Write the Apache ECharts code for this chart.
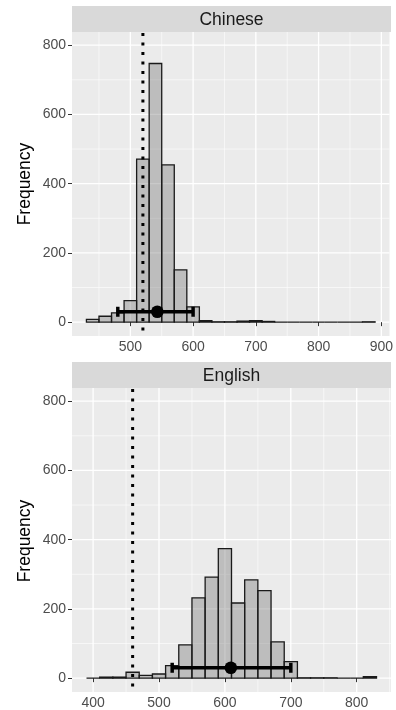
<!DOCTYPE html>
<html>
<head>
<meta charset="utf-8">
<script src="https://cdn.jsdelivr.net/npm/echarts@6/dist/echarts.min.js"></script>
<style>html,body{margin:0;padding:0;background:#fff;}#c{width:396px;height:710px;}</style>
</head>
<body>
<div id="c"></div>
<script>
// ---- data ----
const panelTitles = ['Chinese', 'English'];
const binWidth = 20;
const cnBinStarts = [430,450,470,490,510,530,550,570,590,610,630,650,670,690,710,730,750,770,790,810,830,850,870];
const cnCounts    = [8,17,27,62,471,747,454,151,44,4,1,1,3,4,2,0,0,0,0,0,0,0,1];
const enBinStarts = [390,410,430,450,470,490,510,530,550,570,590,610,630,650,670,690,710,730,750,770,790,810];
const enCounts    = [0,3,3,17,8,12,36,96,232,292,374,217,284,253,105,48,1,1,1,0,0,4];
const cnCutoff = 520;
const enCutoff = 460;
const cnMean = 543, cnLow = 480, cnHigh = 600, cnPointY = 30;
const enMean = 609, enLow = 520, enHigh = 700, enPointY = 30;
const cnXTicks = [500,600,700,800,900];
const cnXMinor = [450,550,650,750,850];
const enXTicks = [400,500,600,700,800];
const enXMinor = [450,550,650,750,850];
const yTicks = [0,200,400,600,800];
const yMinor = [100,300,500,700];
const yName = 'Frequency';

// ---- layout ----
const FONT = '"Liberation Sans", Arial, sans-serif';
const panels = [
  {top: 32, height: 304, xmin: 407, xmax: 913, stripTop: 6},
  {top: 388, height: 306, xmin: 368, xmax: 852, stripTop: 362}
];
const LEFT = 72, WIDTH = 319;

function gridLineSeries(idx, values, dir, width) {
  return {
    type: 'custom', xAxisIndex: idx, yAxisIndex: idx, z: 0, silent: true,
    data: values.map(v => [v, v]),
    renderItem: function (params, api) {
      const cs = params.coordSys;
      const v = api.value(0);
      if (dir === 'x') {
        const x = api.coord([v, 0])[0];
        return {type: 'line', shape: {x1: x, y1: cs.y, x2: x, y2: cs.y + cs.height},
                style: {stroke: '#ffffff', lineWidth: width}};
      } else {
        const y = api.coord([panels[idx].xmin, v])[1];
        return {type: 'line', shape: {x1: cs.x, y1: y, x2: cs.x + cs.width, y2: y},
                style: {stroke: '#ffffff', lineWidth: width}};
      }
    }
  };
}

function barSeries(idx, starts, counts) {
  return {
    type: 'custom', xAxisIndex: idx, yAxisIndex: idx, z: 2, silent: true,
    data: starts.map((s, i) => [s, s + binWidth, counts[i]]),
    renderItem: function (params, api) {
      const p0 = api.coord([api.value(0), api.value(2)]);
      const p1 = api.coord([api.value(1), 0]);
      return {type: 'rect', shape: {x: p0[0], y: p0[1], width: p1[0] - p0[0], height: p1[1] - p0[1]},
              style: {fill: 'rgba(127,127,127,0.42)', stroke: '#1a1a1a', lineWidth: 1.3}};
    }
  };
}

function vlineSeries(idx, xv) {
  return {
    type: 'custom', xAxisIndex: idx, yAxisIndex: idx, z: 3, silent: true,
    data: [[xv, 0]],
    renderItem: function (params, api) {
      const cs = params.coordSys;
      const x = api.coord([api.value(0), 0])[0];
      return {type: 'line', shape: {x1: x, y1: cs.y + 1, x2: x, y2: cs.y + cs.height},
              style: {stroke: '#000', lineWidth: 3, lineDash: [3, 6.5], lineCap: 'butt'}};
    }
  };
}

function errorbarSeries(idx, lo, hi, yv) {
  return {
    type: 'custom', xAxisIndex: idx, yAxisIndex: idx, z: 4, silent: true,
    data: [[lo, hi, yv]],
    renderItem: function (params, api) {
      const a = api.coord([api.value(0), api.value(2)]);
      const b = api.coord([api.value(1), api.value(2)]);
      const st = {stroke: '#000', lineWidth: 3.5};
      return {type: 'group', children: [
        {type: 'line', shape: {x1: a[0], y1: a[1], x2: b[0], y2: b[1]}, style: st},
        {type: 'line', shape: {x1: a[0], y1: a[1] - 5, x2: a[0], y2: a[1] + 5}, style: st},
        {type: 'line', shape: {x1: b[0], y1: b[1] - 5, x2: b[0], y2: b[1] + 5}, style: st}
      ]};
    }
  };
}

function pointSeries(idx, xv, yv) {
  return {
    type: 'custom', xAxisIndex: idx, yAxisIndex: idx, z: 5, silent: true,
    data: [[xv, yv]],
    renderItem: function (params, api) {
      const c = api.coord([api.value(0), api.value(1)]);
      return {type: 'circle', shape: {cx: c[0], cy: c[1], r: 6.3}, style: {fill: '#000'}};
    }
  };
}

const xTickSets = [cnXTicks, enXTicks];
const xMinorSets = [cnXMinor, enXMinor];

const grids = panels.map(p => ({left: LEFT, top: p.top, width: WIDTH, height: p.height,
  show: true, backgroundColor: '#EBEBEB', borderWidth: 0, containLabel: false}));

const xAxes = panels.map((p, i) => ({
  type: 'value', gridIndex: i, min: p.xmin, max: p.xmax,
  axisLine: {show: false},
  axisTick: {show: true, length: 4, customValues: xTickSets[i], lineStyle: {color: '#333', width: 1}},
  axisLabel: {customValues: xTickSets[i], color: '#4D4D4D', fontSize: 14, fontFamily: FONT, margin: 4},
  splitLine: {show: false}
}));

const yAxes = panels.map((p, i) => ({
  type: 'value', gridIndex: i, min: -40, max: 838,
  axisLine: {show: false},
  axisTick: {show: true, length: 4, customValues: yTicks, lineStyle: {color: '#333', width: 1}},
  axisLabel: {customValues: yTicks, color: '#4D4D4D', fontSize: 14, fontFamily: FONT, margin: 6},
  splitLine: {show: false}
}));

const series = [];
[0, 1].forEach(i => {
  series.push(gridLineSeries(i, xMinorSets[i], 'x', 0.6));
  series.push(gridLineSeries(i, yMinor, 'y', 0.6));
  series.push(gridLineSeries(i, xTickSets[i], 'x', 1.3));
  series.push(gridLineSeries(i, yTicks, 'y', 1.3));
});
series.push(barSeries(0, cnBinStarts, cnCounts));
series.push(barSeries(1, enBinStarts, enCounts));
series.push(vlineSeries(0, cnCutoff));
series.push(vlineSeries(1, enCutoff));
series.push(errorbarSeries(0, cnLow, cnHigh, cnPointY));
series.push(errorbarSeries(1, enLow, enHigh, enPointY));
series.push(pointSeries(0, cnMean, cnPointY));
series.push(pointSeries(1, enMean, enPointY));

const graphics = [];
panels.forEach((p, i) => {
  graphics.push({type: 'rect', left: LEFT, top: p.stripTop, z: 0,
    shape: {width: WIDTH, height: p.top - p.stripTop}, style: {fill: '#D9D9D9'}});
  graphics.push({type: 'text', x: LEFT + WIDTH / 2, y: (p.stripTop + p.top) / 2 + 1, z: 1,
    style: {text: panelTitles[i], fill: '#1A1A1A', font: '17.5px ' + FONT, align: 'center', verticalAlign: 'middle'}});
  graphics.push({type: 'text', x: 25, y: p.top + p.height / 2, rotation: Math.PI / 2, z: 1,
    style: {text: yName, fill: '#000', font: '17.5px ' + FONT, align: 'center', verticalAlign: 'middle'}});
});

const chart = echarts.init(document.getElementById('c'), null, {renderer: 'canvas'});
chart.setOption({
  animation: false,
  backgroundColor: '#ffffff',
  grid: grids,
  xAxis: xAxes,
  yAxis: yAxes,
  series: series,
  graphic: graphics
});
</script>
</body>
</html>
